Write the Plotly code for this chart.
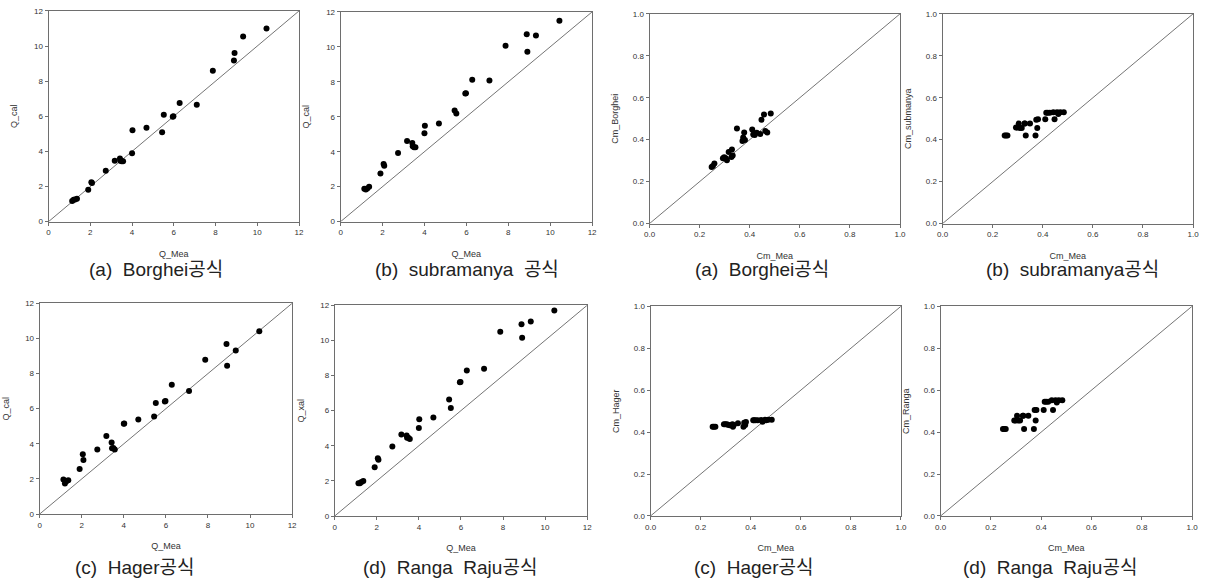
import plotly.graph_objects as go

W, H = 1205, 585

# Measured discharge (shared by the four Q panels)
q_mea = [1.13, 1.20, 1.27, 1.36, 1.90, 2.05, 2.08, 2.74, 3.17, 3.42, 3.44, 3.50, 3.57,
         4.00, 4.02, 4.69, 5.44, 5.52, 5.95, 5.98, 6.28, 7.10, 7.87, 8.88, 8.91, 9.32, 10.44]

q_borghei = [1.18, 1.24, 1.26, 1.30, 1.82, 2.24, 2.20, 2.90, 3.46, 3.59, 3.46, 3.44, 3.44,
             3.89, 5.20, 5.35, 5.09, 6.08, 5.97, 6.00, 6.76, 6.66, 8.59, 9.17, 9.60, 10.54, 10.99]
q_subramanya = [1.88, 1.84, 1.90, 1.99, 2.75, 3.29, 3.20, 3.93, 4.61, 4.50, 4.31, 4.25, 4.25,
                5.06, 5.49, 5.62, 6.36, 6.19, 7.33, 7.35, 8.12, 8.07, 10.06, 10.72, 9.72, 10.65, 11.49]
q_hager = [1.96, 1.74, 1.87, 1.93, 2.56, 3.40, 3.08, 3.68, 4.45, 4.07, 3.74, 3.76, 3.68,
           5.14, 5.16, 5.38, 5.55, 6.32, 6.41, 6.43, 7.36, 7.01, 8.79, 9.68, 8.45, 9.31, 10.41]
q_ranga = [1.87, 1.87, 1.94, 2.00, 2.77, 3.29, 3.21, 3.96, 4.64, 4.58, 4.45, 4.45, 4.39,
           5.01, 5.51, 5.61, 6.64, 6.15, 7.61, 7.63, 8.28, 8.39, 10.49, 10.92, 10.15, 11.08, 11.70]

# Measured discharge coefficient (shared by the four Cm panels)
cm_mea = [0.248, 0.253, 0.259, 0.293, 0.298, 0.304, 0.309, 0.316, 0.327, 0.329, 0.332, 0.349, 0.371,
          0.374, 0.378, 0.381, 0.410, 0.414, 0.420, 0.428, 0.442, 0.447, 0.457, 0.462, 0.470, 0.484]

cm_borghei = [0.270, 0.275, 0.286, 0.312, 0.316, 0.312, 0.302, 0.341, 0.317, 0.353, 0.325, 0.453, 0.394,
              0.411, 0.434, 0.398, 0.448, 0.425, 0.422, 0.433, 0.427, 0.495, 0.520, 0.441, 0.434, 0.525]
cm_subramanya = [0.420, 0.420, 0.420, 0.458, 0.458, 0.477, 0.456, 0.456, 0.477, 0.477, 0.420, 0.477, 0.420,
                 0.495, 0.456, 0.497, 0.497, 0.528, 0.528, 0.528, 0.531, 0.497, 0.531, 0.522, 0.531, 0.531]
cm_hager = [0.425, 0.425, 0.425, 0.437, 0.437, 0.437, 0.435, 0.433, 0.437, 0.425, 0.433, 0.442, 0.425,
            0.445, 0.434, 0.448, 0.456, 0.456, 0.456, 0.456, 0.458, 0.450, 0.459, 0.456, 0.459, 0.459]
cm_ranga = [0.415, 0.415, 0.415, 0.455, 0.455, 0.478, 0.455, 0.455, 0.478, 0.478, 0.415, 0.478, 0.415,
            0.505, 0.455, 0.505, 0.505, 0.545, 0.545, 0.545, 0.552, 0.505, 0.552, 0.541, 0.552, 0.552]

q_ticks = [0, 2, 4, 6, 8, 10, 12]
cm_ticks = [0.0, 0.2, 0.4, 0.6, 0.8, 1.0]

NB = "\u00a0"
panels = [
    # x data, y data, y title, x title, caption, pixel box (left, top, right, bottom), caption centre (x, y)
    dict(x=q_mea, y=q_borghei, yt="Q_cal", xt="Q_Mea", cap=f"(a){NB} Borghei공식",
         box=(43, 7, 296, 221), cc=(152, 270), kind="q"),
    dict(x=q_mea, y=q_subramanya, yt="Q_cal", xt="Q_Mea", cap=f"(b){NB} subramanya{NB} 공식",
         box=(338, 8, 592, 221), cc=(466, 270), kind="q"),
    dict(x=cm_mea, y=cm_borghei, yt="Cm_Borghei", xt="Cm_Mea", cap=f"(a){NB} Borghei공식",
         box=(650, 10, 903, 223), cc=(764, 270), kind="cm"),
    dict(x=cm_mea, y=cm_subramanya, yt="Cm_submanya", xt="Cm_Mea", cap=f"(b){NB} subramanya공식",
         box=(946, 10, 1199, 223), cc=(1077, 270), kind="cm"),
    dict(x=q_mea, y=q_hager, yt="Q_cal", xt="Q_Mea", cap=f"(c){NB} Hager공식",
         box=(34, 304, 289, 518), cc=(130, 572), kind="q"),
    dict(x=q_mea, y=q_ranga, yt="Q_xal", xt="Q_Mea", cap=f"(d){NB} Ranga{NB} Raju공식",
         box=(332, 306, 587, 520), cc=(448, 572), kind="q"),
    dict(x=cm_mea, y=cm_hager, yt="Cm_Hager", xt="Cm_Mea", cap=f"(c){NB} Hager공식",
         box=(651, 307, 904, 520), cc=(755, 572), kind="cm"),
    dict(x=cm_mea, y=cm_ranga, yt="Cm_Ranga", xt="Cm_Mea", cap=f"(d){NB} Ranga{NB} Raju공식",
         box=(944, 307, 1198, 520), cc=(1055, 572), kind="cm"),
]

AXIS_COLOR = "#6e6e6e"
TEXT_COLOR = "#333333"
LABEL_FONT = dict(family="Liberation Sans, Arial, sans-serif", size=8, color=TEXT_COLOR)
TITLE_FONT = dict(family="Liberation Sans, Arial, sans-serif", size=9, color=TEXT_COLOR)
CAP_FONT = dict(family="Liberation Sans, Noto Sans CJK KR, sans-serif", size=19, color="#222222")

fig = go.Figure()
layout = dict(width=W, height=H, margin=dict(l=0, r=0, t=0, b=0),
              paper_bgcolor="white", plot_bgcolor="white", showlegend=False,
              annotations=[])

for i, p in enumerate(panels, start=1):
    xa = "x" if i == 1 else f"x{i}"
    ya = "y" if i == 1 else f"y{i}"
    l, t, r, b = p["box"]
    if p["kind"] == "q":
        rng, ticks, fmt = [0, 12], q_ticks, None
    else:
        rng, ticks, fmt = [0, 1], cm_ticks, ".1f"
    ticktext = [f"{v:.1f}" for v in ticks] if fmt else [str(v) for v in ticks]

    # 1:1 reference line
    fig.add_trace(go.Scatter(x=rng, y=rng, mode="lines", xaxis=xa, yaxis=ya,
                             line=dict(color="#505050", width=0.8), hoverinfo="skip"))
    # observed vs computed
    fig.add_trace(go.Scatter(x=p["x"], y=p["y"], mode="markers", xaxis=xa, yaxis=ya,
                             marker=dict(color="black", size=6, line=dict(width=0))))

    common = dict(showgrid=False, zeroline=False, showline=True, linecolor=AXIS_COLOR,
                  linewidth=1, mirror=True, ticks="outside", ticklen=3, tickcolor=AXIS_COLOR,
                  tickwidth=1, tickfont=LABEL_FONT, range=rng, tickvals=ticks,
                  ticktext=ticktext, fixedrange=True)
    layout["xaxis" if i == 1 else f"xaxis{i}"] = dict(
        common, domain=[l / W, r / W], anchor=ya,
        title=dict(text=p["xt"], font=TITLE_FONT, standoff=14))
    layout["yaxis" if i == 1 else f"yaxis{i}"] = dict(
        common, domain=[1 - b / H, 1 - t / H], anchor=xa,
        title=dict(text=p["yt"], font=TITLE_FONT, standoff=14 if p["kind"] == "q" else 12))

    cx, cy = p["cc"]
    layout["annotations"].append(dict(
        text=p["cap"], x=cx / W, y=1 - cy / H, xref="paper", yref="paper",
        xanchor="center", yanchor="middle", showarrow=False, font=CAP_FONT))

fig.update_layout(**layout)
fig.write_html("out.html")
